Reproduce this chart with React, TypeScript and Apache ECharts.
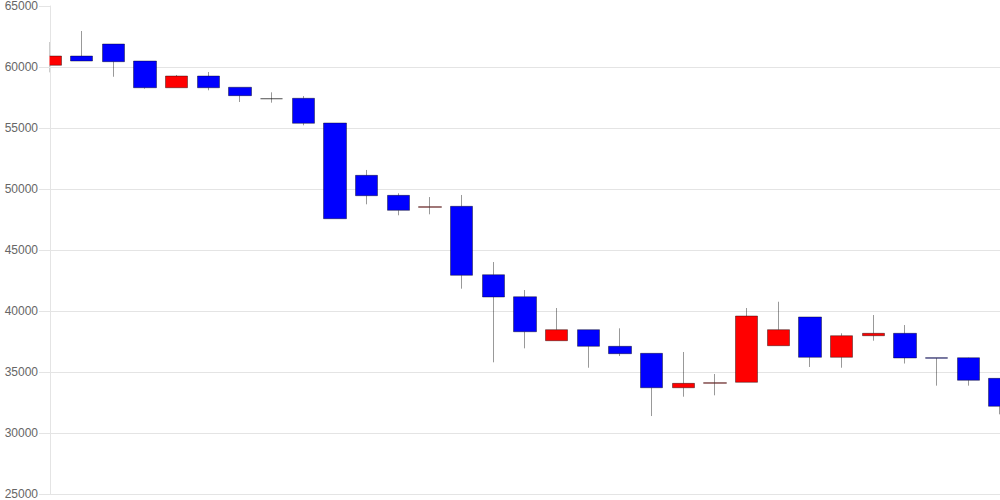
import React, { useEffect, useRef } from "react";
import * as echarts from "echarts";

const categories: string[] = Array.from({ length: 31 }, (_, i) => String(i + 1));
const opens = [60140, 60900, 61885, 60490, 58300, 59260, 58340, 57400, 57435, 55410, 51120, 49480, 48500, 48580, 42975, 41170, 37565, 38470, 37105, 36530, 33710, 34080, 34155, 37155, 39510, 36205, 37975, 38170, 36170, 36170, 34480];
const closes = [60900, 60490, 60435, 58300, 59260, 58300, 57650, 57400, 55385, 47565, 49450, 48250, 48550, 42925, 41145, 38300, 38470, 37105, 36500, 33710, 34070, 34120, 39590, 38470, 36205, 37975, 38170, 36150, 36130, 34320, 32190];
const lows = [59560, 60490, 59200, 58220, 58300, 58090, 57130, 57075, 55220, 47565, 48745, 47845, 47925, 41830, 35795, 36940, 37565, 35350, 36310, 31390, 32975, 33090, 34155, 37155, 35410, 35350, 37565, 35695, 33880, 33880, 31530];
const highs = [62050, 62950, 61885, 60490, 59345, 59590, 58340, 57925, 57620, 55410, 51560, 49650, 49340, 49510, 44015, 41720, 40245, 38470, 38580, 36530, 36640, 34835, 40245, 40760, 39510, 38170, 39670, 38850, 36170, 36190, 34480];
const yTicks = { min: 25000, max: 65000, interval: 5000 };

export default function App() {
  const ref = useRef<HTMLDivElement>(null);
  useEffect(() => {
    if (!ref.current) return;
    const chart = echarts.init(ref.current, null, { renderer: "svg" });
    const data = categories.map((_, i) => [opens[i], closes[i], lows[i], highs[i]]);
    const gridColor = "#e4e4e4";
    chart.setOption({
      animation: false,
      grid: { left: 50, right: 0, top: 6, bottom: 6 },
      xAxis: {
        type: "category",
        data: categories,
        boundaryGap: false,
        axisLine: { show: false },
        axisTick: { show: false },
        axisLabel: { show: false },
        splitLine: { show: false },
      },
      yAxis: [
        {
          type: "value",
          min: yTicks.min,
          max: yTicks.max,
          interval: yTicks.interval,
          z: 0,
          axisLine: { show: true, lineStyle: { color: gridColor } },
          axisTick: { show: false },
          axisLabel: { show: false },
          splitLine: { show: true, showMaxLine: false, lineStyle: { color: gridColor } },
        },
        {
          type: "value",
          position: "left",
          min: yTicks.min,
          max: yTicks.max,
          interval: yTicks.interval,
          z: 6,
          axisLine: { show: false, onZero: false },
          axisTick: { show: true, length: 11, lineStyle: { color: gridColor } },
          axisLabel: {
            margin: 12,
            color: "#666",
            fontSize: 12,
            fontFamily: "Liberation Sans, Arial, sans-serif",
            formatter: (v: number) => String(v),
          },
          splitLine: { show: false },
        },
      ],
      graphic: [
        {
          type: "rect",
          z: 4,
          shape: { x: 0, y: 0, width: 49.5, height: 500 },
          style: { fill: "#ffffff" },
          silent: true,
        },
      ],
      series: [
        {
          type: "candlestick",
          yAxisIndex: 0,
          data,
          barWidth: 23,
          z: 2,
          itemStyle: {
            color: "#ff0000",
            color0: "#0000ff",
            borderColor: "rgba(0,0,0,0.4)",
            borderColor0: "rgba(0,0,0,0.4)",
            borderWidth: 1,
          },
        },
      ],
    });
    return () => chart.dispose();
  }, []);
  return <div ref={ref} style={{ position: "absolute", left: 0, top: 0, width: 1000, height: 500 }} />;
}
